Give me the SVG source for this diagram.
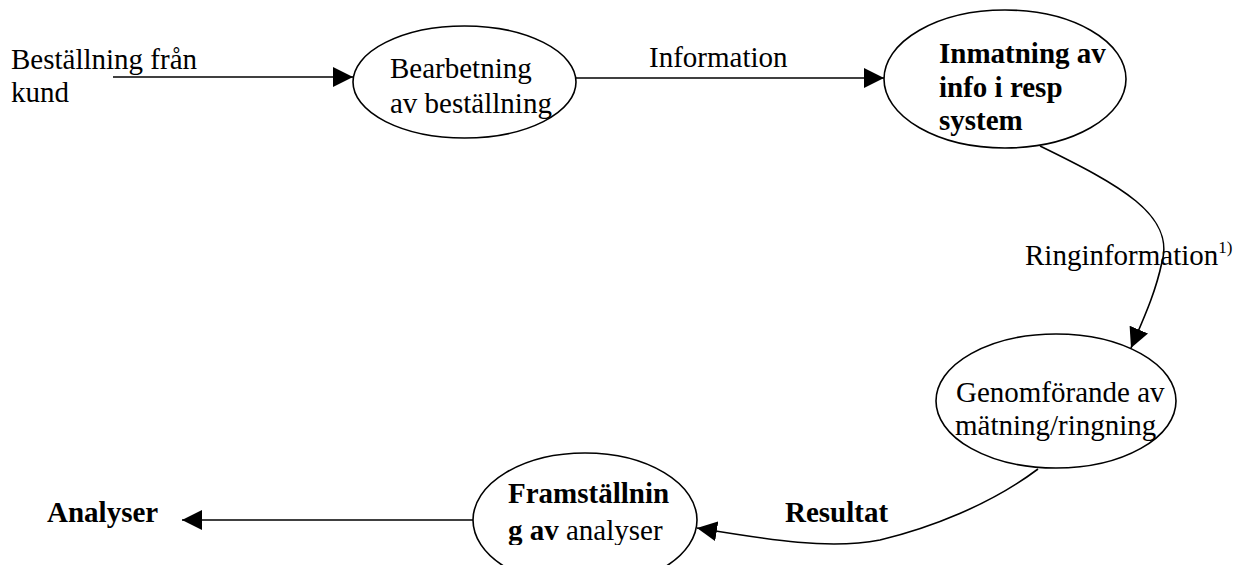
<svg xmlns="http://www.w3.org/2000/svg" width="1244" height="565" viewBox="0 0 1244 565">
<style>
text{font-family:"Liberation Serif","Times New Roman",serif;font-size:29px;fill:#000}
.b{font-weight:bold}
.node{fill:#fff;stroke:#000;stroke-width:1.6}
.edge{fill:none;stroke:#000;stroke-width:1.6}
</style>
<defs>
<marker id="ah" markerUnits="userSpaceOnUse" markerWidth="20" markerHeight="20" viewBox="0 0 20 20" refX="20" refY="10" orient="auto">
<path d="M0,0 L20,10 L0,20 z" fill="#000"/>
</marker>
<clipPath id="clip4"><rect x="460" y="440" width="260" height="105"/></clipPath>
</defs>
<rect width="1244" height="565" fill="#fff"/>
<g id="connectors">
<line class="edge" x1="113" y1="77" x2="353" y2="77" marker-end="url(#ah)"/>
<line class="edge" x1="576" y1="78" x2="884" y2="78" marker-end="url(#ah)"/>
<path class="edge" d="M1040,146 C1120,185 1175,215 1162,262 C1155,295 1142,322 1131,348" marker-end="url(#ah)"/>
<path class="edge" d="M1038,469 C990,505 930,528 880,540 C830,550 770,540 697,528" marker-end="url(#ah)"/>
<line class="edge" x1="473" y1="520" x2="182" y2="520" marker-end="url(#ah)"/>
</g>
<g id="labels">
<text x="11" y="69">Beställning från</text>
<text x="11" y="102">kund</text>
<text x="649" y="67">Information</text>
<text x="1025" y="265">Ringinformation<tspan font-size="17" dy="-12">1)</tspan></text>
<text class="b" x="785" y="522">Resultat</text>
<text class="b" x="47" y="522">Analyser</text>
</g>
<g id="n1">
<ellipse class="node" cx="464.5" cy="82" rx="111.5" ry="56"/>
<text x="390" y="78">Bearbetning</text>
<text x="390" y="113">av beställning</text>
</g>
<g id="n2">
<ellipse class="node" cx="1005" cy="79" rx="121" ry="69"/>
<text class="b" x="939" y="63">Inmatning av</text>
<text class="b" x="939" y="97">info i resp</text>
<text class="b" x="939" y="130">system</text>
</g>
<g id="n3">
<ellipse class="node" cx="1056" cy="401" rx="120" ry="67"/>
<text x="956" y="402">Genomförande av</text>
<text x="955" y="435">mätning/ringning</text>
</g>
<g id="n4">
<ellipse class="node" cx="585" cy="520" rx="112" ry="67"/>
<g clip-path="url(#clip4)">
<text class="b" x="508" y="503">Framställnin</text>
<text x="508" y="540"><tspan class="b">g av</tspan> analyser</text>
</g>
</g>
</svg>
